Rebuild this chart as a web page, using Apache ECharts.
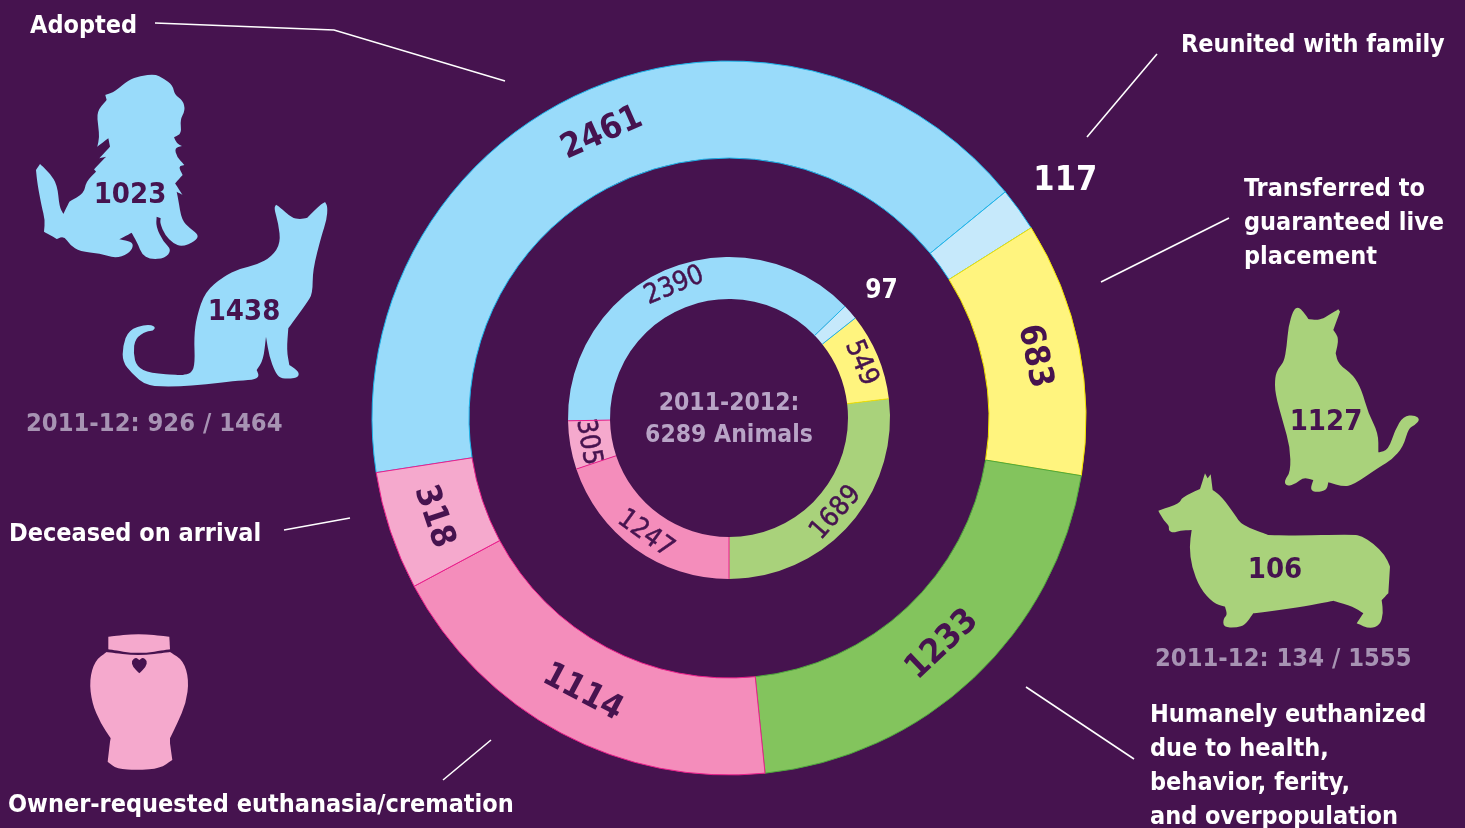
<!DOCTYPE html>
<html>
<head>
<meta charset="utf-8">
<title>Shelter outcomes</title>
<style>
  html, body { margin: 0; padding: 0; background: #46134f; }
  #chart { width: 1465px; height: 828px; }
</style>
<script src="https://cdn.jsdelivr.net/npm/echarts@6/dist/echarts.min.js"></script>
</head>
<body>
<div id="chart"></div>
<script>
  const outcomes = ['Adopted', 'Reunited with family', 'Transferred to guaranteed live placement',
    'Humanely euthanized due to health, behavior, ferity, and overpopulation',
    'Owner-requested euthanasia/cremation', 'Deceased on arrival']
  const values2013 = [2461, 117, 683, 1233, 1114, 318]
  const values2012 = [2390, 97, 549, 1689, 1247, 305]
  const adoptedDogs = 1023
  const adoptedCats = 1438
  const euthanizedCats = 1127
  const euthanizedDogs = 106

  const FONT = '"DejaVu Sans Condensed", "DejaVu Sans", sans-serif'
  const BG = '#46134f'
  const INK = '#46134f'
  const WHITE = '#ffffff'
  const MUTED = '#a793b3'
  const CX = 729
  const CY = 418
  const INNER_START = 181

  const outerColors = ['#99dbfa', '#c6e9fb', '#fff47e', '#83c45d', '#f48dbb', '#f5a9cd']
  const outerBorders = ['#1cb5ea', '#1cb5ea', '#f2e300', '#4fa83d', '#ec1e8c', '#ec1e8c']
  const innerColors = ['#99dbfa', '#c6e9fb', '#fff47e', '#a9d27b', '#f48dbb', '#f5a9cd']

  // traced points, a * marks a hard corner
  const outlines = {
    dogFluffy: '465,72 490,85 518,105 524,135 548,150 556,180 540,210 545,250 522,262* 530,280 546,288* 524,294 530,320 553,345* 535,350 548,375* 525,400* 548,435* 530,425* 535,450 545,510 570,535 597,555 585,575 545,590 520,580 495,555 480,520 482,505* 470,500* 468,530 490,575 515,600 495,625 450,628 425,612 415,585 395,548* 358,568* 395,575 400,590 385,612 345,625 300,610 240,605 210,585 192,558 170,567* 132,545* 135,510 125,470 112,400 108,360* 120,342* 150,370 172,405 178,470 190,492* 208,455* 252,430 258,395 288,365* 282,358* 318,320* 298,325* 330,290* 325,265* 292,290* 298,262 295,230 290,185 320,150* 316,135* 345,125 385,90 420,78',
    catSitting: '822,475 828,464* 838,470 875,503 900,508 922,503* 960,465 975,456* 983,470 980,510 965,555 938,660 938,730 920,760 865,835* 860,900 868,945* 897,965 895,982 870,986 840,985 825,965 808,920 798,860* 790,930 770,960* 778,980 760,990 700,993 620,1003 530,1010 440,1008 395,970 368,935 368,890 385,840 440,822 467,830 460,843 440,843 405,865 400,910 410,950 450,970 545,975* 575,970 585,940 582,860 590,800 615,725 670,680 720,655 770,645 815,620 842,580 835,520',
    catGreen: '460,60 475,50 490,65 505,87* 530,90 550,85* 595,58* 600,65* 580,120* 597,145 587,190* 595,222 640,255 665,300 685,370 715,430 715,487* 745,480 765,420 790,378 825,375 840,388 825,405 805,415 790,470 755,510 720,530 640,585 610,590 565,577* 560,600 530,607 510,600 520,570* 490,562 470,580 440,590 432,573 452,545 450,470 430,400 405,310 405,260 415,235 432,215 440,170 445,110',
    corgi: '55,662* 120,640 125,622 180,597* 195,550* 203,565* 212,553* 218,600* 245,620 285,675 305,705 385,735* 450,737 640,733 665,738 700,760 735,795 750,830* 745,910* 725,930* 730,970 720,1005 690,1017 650,1000* 670,970* 640,950 580,932* 520,945 420,960 340,970* 315,1005 290,1013 250,1012 250,985 262,975 255,950* 220,940 180,895 155,830 148,770 155,720* 120,722 100,728 85,722 88,708 70,690',
    urnLid: '145,50* 235,40 328,50* 330,88* 235,102 145,88*',
    urnBody: '140,96* 235,108 330,96* 370,122 387,180 378,250 352,310 330,355* 330,370* 337,420* 300,445 235,450 170,447 143,425* 150,365* 152,355* 122,310 96,250 88,180 105,122',
    urnHeart: '238,120* 248,112 262,122 258,140 238,160* 218,140 214,122 228,112'
  }
  function toPath(str) {
    const pts = []
    str.split(' ').forEach(function (s) {
      const hard = s.slice(-1) === '*'
      const p = s.replace('*', '').split(',').map(Number)
      pts.push(p)
      if (hard) pts.push(p)
    })
    const mid = function (a, b) { return ((a[0] + b[0]) / 2) + ',' + ((a[1] + b[1]) / 2) }
    let d = 'M' + mid(pts[pts.length - 1], pts[0])
    pts.forEach(function (p, i) {
      d += ' Q' + p[0] + ',' + p[1] + ' ' + mid(p, pts[(i + 1) % pts.length])
    })
    return d + ' Z'
  }
  // graphic has no plain path type, so each outline is registered as a shape
  Object.keys(outlines).forEach(function (name) {
    echarts.graphic.registerShape(name, echarts.graphic.extendPath(toPath(outlines[name]), {}))
  })

  function shape(name, x, y, fill) {
    return { type: name, x: x, y: y, scaleX: 1 / 3, scaleY: 1 / 3, silent: true, style: { fill: fill } }
  }
  function text(str, x, y, size, fill, align) {
    return {
      type: 'text', x: x, y: y, silent: true,
      style: {
        text: str, fill: fill, font: 'bold ' + size + 'px ' + FONT,
        textAlign: align || 'left', textVerticalAlign: 'middle'
      }
    }
  }
  function leader(points) {
    return { type: 'polyline', silent: true, shape: { points: points }, style: { stroke: WHITE, lineWidth: 1.6, fill: null } }
  }
  // thin dividers on the inner ring, placed from the data
  function innerDividers() {
    const total = values2012.reduce(function (a, b) { return a + b }, 0)
    const colors = ['#1cb5ea', '#1cb5ea', '#f2e300', '#ec1e8c', '#ec1e8c', '#ec1e8c']
    let acc = 0
    return values2012.map(function (v, i) {
      acc += v
      const a = (INNER_START - acc / total * 360) * Math.PI / 180
      return {
        type: 'line', silent: true, z: 10,
        shape: {
          x1: CX + 119 * Math.cos(a), y1: CY - 119 * Math.sin(a),
          x2: CX + 161 * Math.cos(a), y2: CY - 161 * Math.sin(a)
        },
        style: { stroke: colors[i], lineWidth: 1 }
      }
    })
  }

  function ringData(values, colors, borders, big) {
    return values.map(function (v, i) {
      const item = {
        value: v, name: outcomes[i],
        itemStyle: { color: colors[i], borderColor: borders ? borders[i] : colors[i], borderWidth: borders ? 1 : 0 }
      }
      if (i === 1) {
        item.label = { position: 'outside', color: WHITE, rotate: 0, fontWeight: 'bold', fontSize: big ? 34 : 26, textBorderWidth: 0 }
      }
      return item
    })
  }

  const chart = echarts.init(document.getElementById('chart'))
  chart.setOption({
    backgroundColor: BG,
    animation: false,
    series: [{
      type: 'pie',
      center: [CX, CY],
      radius: [260, 357],
      startAngle: 188.8,
      clockwise: true,
      avoidLabelOverlap: false,
      silent: true,
      label: {
        position: 'inside', rotate: 'tangential', formatter: '{c}',
        color: INK, fontFamily: FONT, fontWeight: 'bold', fontSize: 34
      },
      labelLine: { show: false, length: 34, length2: 0 },
      labelLayout: function (p) {
        return p.dataIndex === 1 ? { dx: -18, dy: -8 } : {}
      },
      data: ringData(values2013, outerColors, outerBorders, true)
    }, {
      type: 'pie',
      center: [CX, CY],
      radius: [119, 161],
      startAngle: INNER_START,
      clockwise: true,
      avoidLabelOverlap: false,
      silent: true,
      label: {
        position: 'inside', rotate: 'tangential', formatter: '{c}',
        color: INK, fontFamily: FONT, fontWeight: 'normal', fontSize: 27,
        textBorderColor: INK, textBorderWidth: 0.5
      },
      labelLine: { show: false, length: 20, length2: 0 },
      labelLayout: function (p) {
        return p.dataIndex === 1 ? { dx: -5, dy: -8 } : {}
      },
      data: ringData(values2012, innerColors, null, false)
    }],
    graphic: [
      leader([[155, 23], [334, 30], [505, 81]]),
      leader([[1157, 54], [1087, 137]]),
      leader([[1229, 218], [1101, 282]]),
      leader([[1026, 687], [1134, 759]]),
      leader([[491, 740], [443, 780]]),
      leader([[284, 530], [350, 518]]),

      shape('dogFluffy', 0, 50, '#99dbfa'),
      shape('catSitting', 0, 50, '#99dbfa'),
      shape('catGreen', 1140, 290, '#a9d27b'),
      shape('corgi', 1140, 290, '#a9d27b'),
      shape('urnLid', 60, 620, '#f5a9cd'),
      shape('urnBody', 60, 620, '#f5a9cd'),
      shape('urnHeart', 60, 620, BG),

      text(String(adoptedDogs), 130, 195, 29, INK, 'center'),
      text(String(adoptedCats), 244, 312, 29, INK, 'center'),
      text(String(euthanizedCats), 1326, 422, 29, INK, 'center'),
      text(String(euthanizedDogs), 1275, 570, 29, INK, 'center'),

      text('Adopted', 30, 26, 25, WHITE),
      text('Reunited with family', 1181, 45, 25, WHITE),
      text('Transferred to', 1244, 189, 25, WHITE),
      text('guaranteed live', 1244, 223, 25, WHITE),
      text('placement', 1244, 257, 25, WHITE),
      text('Humanely euthanized', 1150, 715, 25, WHITE),
      text('due to health,', 1150, 749, 25, WHITE),
      text('behavior, ferity,', 1150, 783, 25, WHITE),
      text('and overpopulation', 1150, 817, 25, WHITE),
      text('Deceased on arrival', 9, 534, 25, WHITE),
      text('Owner-requested euthanasia/cremation', 8, 805, 25, WHITE),

      text('2011-12: 926 / 1464', 26, 424, 25.3, MUTED),
      text('2011-12: 134 / 1555', 1155, 659, 25.3, MUTED),
      text('2011-2012:', 729, 404, 24.5, '#b8a4c6', 'center'),
      text('6289 Animals', 729, 436, 24.5, '#b8a4c6', 'center')
    ].concat(innerDividers())
  })
</script>
</body>
</html>
